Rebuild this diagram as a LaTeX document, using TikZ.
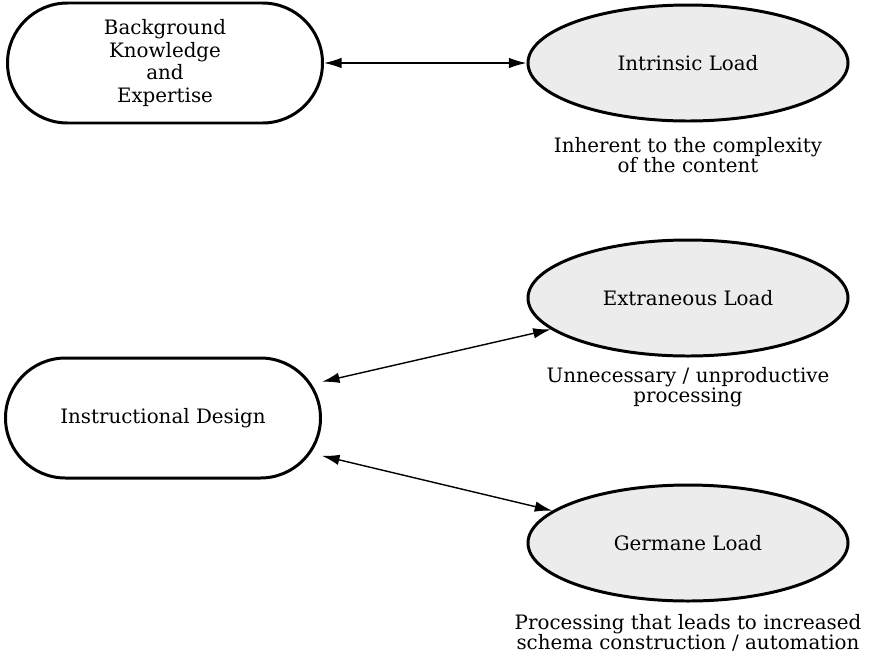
\documentclass[tikz,border=0pt]{standalone}
\usepackage{fontspec}
\setmainfont{DejaVu Serif}
\usepackage{tikz}
\usetikzlibrary{positioning}
\usetikzlibrary{shapes.geometric}
\usetikzlibrary{arrows.meta}

\tikzset{
  factor/.style={rectangle,draw,line width=1.7pt,rounded corners=1.2cm,
    minimum width=6.3cm,minimum height=2.4cm,align=center,font=\fontsize{11.3}{13}\selectfont},
  load/.style={ellipse,draw,line width=1.7pt,fill=gray!15,
    minimum width=6.4cm,minimum height=2.32cm,font=\fontsize{11.3}{13}\selectfont},
  note/.style={align=center,font=\fontsize{11.3}{11.6}\selectfont}
}

\begin{document}
\begin{tikzpicture}[<->,>={Latex[length=10pt,width=6pt]},line width=0.8pt]

    \useasboundingbox (0,0) rectangle (17.4,-13.24);

    \node[factor] (bk) at (3.3,-1.26) {Background\\Knowledge\\and\\Expertise};
    \node[factor] (id) at (3.26,-8.36) {Instructional Design};

    \node[load] (il) at (13.76,-1.26) {Intrinsic Load};
    \node[load] (el) at (13.76,-5.96) {Extraneous Load};
    \node[load] (gl) at (13.76,-10.86) {Germane Load};

    \node[note] (iltext) at (13.76,-3.1) {Inherent to the complexity\\of the content};
    \node[note] (eltext) at (13.76,-7.74) {Unnecessary / unproductive\\processing};
    \node[note] (gltext) at (13.76,-12.66) {Processing that leads to increased\\schema construction / automation};

    \path (bk) edge (il)
    (id) edge (el)
    (id) edge (gl);

\end{tikzpicture}
\end{document}
